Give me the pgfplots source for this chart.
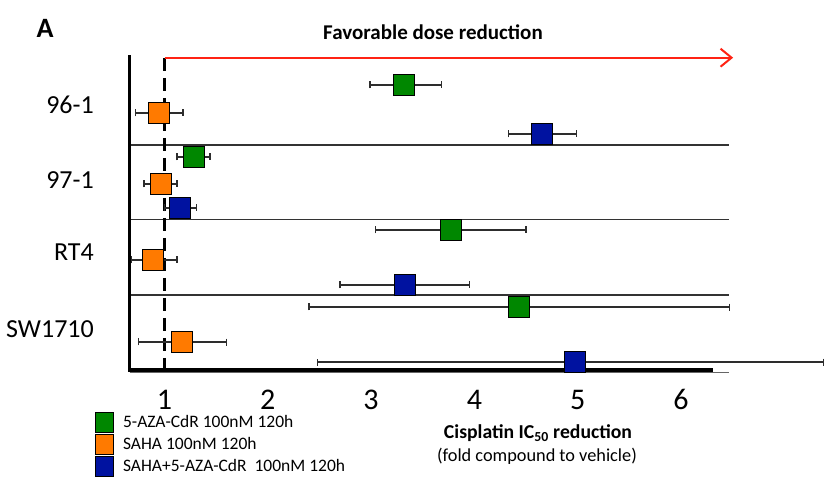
\documentclass[border=0pt]{standalone}
\usepackage{fontspec}
\setmainfont{Carlito}
\usepackage{pgfplots}
\pgfplotsset{compat=1.18}
\usepackage{pgfplotstable}
\usetikzlibrary{arrows.meta}

\definecolor{grn}{RGB}{0,135,0}
\definecolor{org}{RGB}{255,122,0}
\definecolor{blu}{RGB}{0,18,160}
\definecolor{errc}{RGB}{45,45,45}
\definecolor{arrowred}{RGB}{255,35,20}

% x = fold reduction, y = vertical position (pt from bottom), em/ep = error minus/plus
\pgfplotstableread{
x    y    em   ep
3.32 394  0.33 0.36
1.28 322  0.16 0.16
3.77 249  0.73 0.73
4.43 172  2.03 2.04
}\aza
\pgfplotstableread{
x    y    em   ep
0.94 366  0.22 0.24
0.96 295  0.16 0.16
0.89 219  0.21 0.23
1.17 137  0.42 0.43
}\saha
\pgfplotstableread{
x    y    em   ep
4.65 345  0.32 0.34
1.15 271  0.15 0.16
3.33 194  0.63 0.62
4.97 117  2.49 2.41
}\combo

\begin{document}
\begin{tikzpicture}
\path[use as bounding box] (0,0) rectangle (824pt,479pt);
\begin{axis}[
  at={(129.5pt,109pt)}, anchor=south west,
  scale only axis, width=599.5pt, height=315pt,
  xmin=0.661, xmax=6.465, ymin=109, ymax=424,
  clip=false,
  axis line style={draw=none},
  tick style={draw=none},
  xtick={1,2,3,4,5,6},
  xticklabel style={anchor=center, yshift=-30pt, inner sep=0pt, text height=19pt, text depth=0pt,
    font=\fontsize{30}{32}\selectfont},
  ytick={374,299,226.5,149.5},
  yticklabels={96-1,97-1,RT4,SW1710},
  yticklabel style={anchor=east, inner sep=0pt, xshift=-35.5pt, font=\fontsize{26}{28}\selectfont},
  /pgf/number format/assume math mode=true,
  error bars/error bar style={errc, line width=1.3pt},
  error bars/error mark options={rotate=90, errc, line width=1.4pt, mark size=3.5pt},
  legend style={at={(-0.058,-0.132)}, anchor=north west, draw=none, fill=none,
    font=\fontsize{17.5}{19}\selectfont, row sep=1.5pt, column sep=9pt, inner sep=0pt,
    nodes={inner sep=0.5pt}},
  legend cell align=left,
]
% decorations: separators, axes, reference line, arrow
\draw[black!80, line width=1.1pt] (axis cs:0.661,334) -- (axis cs:6.465,334);
\draw[black!80, line width=1.1pt] (axis cs:0.661,259.7) -- (axis cs:6.465,259.7);
\draw[black!80, line width=1.1pt] (axis cs:0.661,184) -- (axis cs:6.465,184);
\draw[black!60, line width=1pt] (axis cs:0.661,107) -- (axis cs:6.465,107);
\draw[black, line width=3.5pt] (axis cs:0.661,109) -- (axis cs:6.31,109);
\draw[black, line width=3pt] (axis cs:0.661,107.5) -- (axis cs:0.661,424);
\draw[black, line width=3pt, dash pattern=on 13pt off 7pt] (axis cs:1,421) -- (axis cs:1,109);
\draw[arrowred, line width=2pt, -{Straight Barb[length=11pt, width=18pt, line width=2pt]}]
  (axis cs:1,421.3) -- (axis cs:6.505,421.3);

\addplot[only marks, mark=square*, mark size=10.5pt,
  mark options={draw=black, fill=grn, line width=0.6pt},
  legend image code/.code={\draw[black, fill=grn, line width=0.6pt] (0pt,-10pt) rectangle (18pt,10pt);},
  error bars/.cd, x dir=both, x explicit]
  table[x=x, y=y, x error plus=ep, x error minus=em] {\aza};
\addlegendentry{5-AZA-CdR 100nM 120h}
\addplot[only marks, mark=square*, mark size=10.5pt,
  mark options={draw=black, fill=org, line width=0.6pt},
  legend image code/.code={\draw[black, fill=org, line width=0.6pt] (0pt,-10pt) rectangle (18pt,10pt);},
  error bars/.cd, x dir=both, x explicit]
  table[x=x, y=y, x error plus=ep, x error minus=em] {\saha};
\addlegendentry{SAHA 100nM 120h}
\addplot[only marks, mark=square*, mark size=10.5pt,
  mark options={draw=black, fill=blu, line width=0.6pt},
  legend image code/.code={\draw[black, fill=blu, line width=0.6pt] (0pt,-10pt) rectangle (18pt,10pt);},
  error bars/.cd, x dir=both, x explicit]
  table[x=x, y=y, x error plus=ep, x error minus=em] {\combo};
\addlegendentry{SAHA+5-AZA-CdR\ \ 100nM 120h}
\end{axis}

\node[font=\fontsize{28}{30}\selectfont\bfseries] at (45pt,451pt) {A};
\node[font=\fontsize{21}{23}\selectfont\bfseries] at (433pt,447pt) {Favorable dose reduction};
\node[font=\fontsize{19.7}{22}\selectfont\bfseries] at (538pt,46pt) {Cisplatin IC\textsubscript{50} reduction};
\node[font=\fontsize{18.3}{20}\selectfont] at (537pt,23pt) {(fold compound to vehicle)};
\end{tikzpicture}
\end{document}
